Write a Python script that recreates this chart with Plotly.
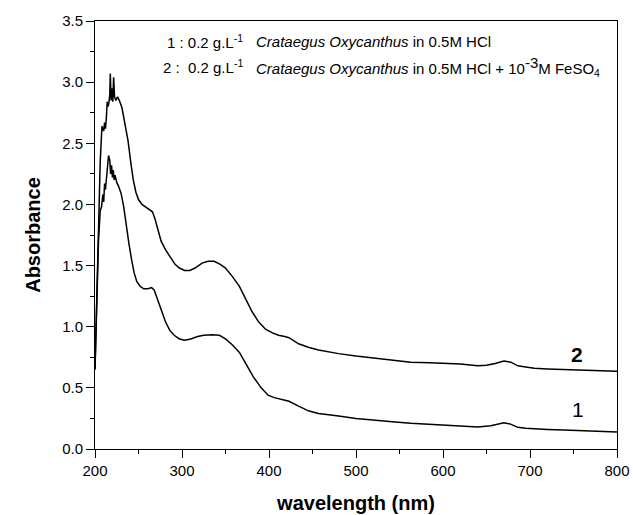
import plotly.graph_objects as go

# Curve 2: 0.2 g/L Crataegus Oxycanthus in 0.5M HCl + 1e-3 M FeSO4
wl2 = [200, 202, 204, 206, 208, 210, 211, 212, 213, 214, 215, 216, 217, 217.6, 218.5,
       219.5, 220.5, 221.4, 222.5, 224, 226, 228, 231, 233, 236, 238, 241, 244, 247, 250,
       254, 258, 262, 266, 269, 272, 276, 281, 286, 292, 297, 303, 309, 315, 323, 330,
       337, 344, 350, 358, 366, 373, 380, 388, 396, 404, 411, 418, 423, 434, 446, 457,
       470, 480, 500, 526, 545, 563, 585, 602, 620, 640, 650, 660, 670, 678, 686, 695,
       705, 720, 739, 760, 780, 800]
abs2 = [0.65, 1.3, 1.95, 2.35, 2.64, 2.60, 2.67, 2.62, 2.70, 2.84, 2.80, 2.83, 2.90, 3.07, 2.85,
        2.95, 2.84, 3.04, 2.88, 2.85, 2.88, 2.85, 2.79, 2.72, 2.60, 2.52, 2.35, 2.20, 2.10, 2.04,
        2.00, 1.98, 1.96, 1.94, 1.88, 1.80, 1.70, 1.63, 1.57, 1.51, 1.48, 1.46, 1.46, 1.48, 1.52, 1.535,
        1.535, 1.51, 1.48, 1.41, 1.33, 1.23, 1.13, 1.04, 0.98, 0.95, 0.93, 0.92, 0.91, 0.86, 0.83, 0.81,
        0.79, 0.78, 0.76, 0.74, 0.725, 0.71, 0.705, 0.70, 0.695, 0.68, 0.685, 0.70, 0.72, 0.71, 0.68, 0.67,
        0.66, 0.655, 0.65, 0.645, 0.64, 0.635]

# Curve 1: 0.2 g/L Crataegus Oxycanthus in 0.5M HCl
wl1 = [200, 202, 204, 206, 207.5, 209, 210, 211, 212, 213, 214, 215.6, 217, 218, 219, 220,
       221, 222, 223, 225, 227, 230, 233, 236, 239, 242, 245, 248, 252, 256, 261, 265, 268,
       271, 276, 281, 286, 291, 297, 303, 310, 318, 325, 335, 343, 350, 358, 366, 374, 382,
       391, 399, 406, 411, 418, 423, 434, 446, 457, 470, 480, 500, 526, 545, 563, 585, 602,
       620, 640, 655, 663, 670, 677, 686, 695, 705, 720, 739, 760, 780, 800]
abs1 = [0.65, 1.2, 1.7, 1.95, 1.98, 2.08, 2.02, 2.17, 2.12, 2.20, 2.30, 2.40, 2.36, 2.25, 2.32, 2.22,
        2.28, 2.20, 2.24, 2.18, 2.15, 2.09, 1.98, 1.82, 1.68, 1.55, 1.44, 1.37, 1.33, 1.31, 1.31, 1.32, 1.30,
        1.24, 1.14, 1.04, 0.97, 0.93, 0.90, 0.89, 0.90, 0.92, 0.93, 0.935, 0.93, 0.90, 0.85, 0.79, 0.69, 0.59,
        0.50, 0.44, 0.42, 0.41, 0.40, 0.39, 0.35, 0.31, 0.29, 0.28, 0.27, 0.25, 0.23, 0.22, 0.21, 0.20, 0.196,
        0.19, 0.18, 0.19, 0.20, 0.215, 0.205, 0.177, 0.17, 0.164, 0.16, 0.155, 0.15, 0.145, 0.14]

x_ticks = [200, 300, 400, 500, 600, 700, 800]
y_ticks = [0.0, 0.5, 1.0, 1.5, 2.0, 2.5, 3.0, 3.5]
legend_prefix = ["1 : 0.2 g.L<sup>-1</sup>", "2 :  0.2 g.L<sup>-1</sup>"]
legend_body = [
    "<i>Crataegus Oxycanthus</i> in 0.5M HCl",
    "<i>Crataegus Oxycanthus</i> in 0.5M HCl + 10<sup><span style='font-size:15px'>-3</span></sup>M FeSO<sub>4</sub>",
]
curve_labels = ["<b>2</b>", "1"]

FONT = "Arial, 'Liberation Sans', sans-serif"
LF = dict(family=FONT, size=15, color="black")

fig = go.Figure()
fig.add_trace(go.Scatter(x=wl1, y=abs1, mode="lines", line=dict(color="black", width=1.5), showlegend=False))
fig.add_trace(go.Scatter(x=wl2, y=abs2, mode="lines", line=dict(color="black", width=1.5), showlegend=False))

# legend lines (prefix right-aligned, body left-aligned)
fig.add_annotation(x=372, y=3.33, text=legend_prefix[0], showarrow=False, xanchor="right", yanchor="middle", font=LF)
fig.add_annotation(x=383, y=3.33, text=legend_body[0], showarrow=False, xanchor="left", yanchor="middle", font=LF)
fig.add_annotation(x=372, y=3.125, text=legend_prefix[1], showarrow=False, xanchor="right", yanchor="middle", font=LF)
fig.add_annotation(x=383, y=3.13, text=legend_body[1], showarrow=False, xanchor="left", yanchor="middle", font=LF)

fig.add_annotation(x=754, y=0.77, text=curve_labels[0], showarrow=False, font=dict(family=FONT, size=21, color="black"))
fig.add_annotation(x=755, y=0.32, text=curve_labels[1], showarrow=False, font=dict(family=FONT, size=21, color="black"))

fig.update_layout(
    width=633, height=515,
    margin=dict(l=95, r=16, t=21, b=66),
    plot_bgcolor="white", paper_bgcolor="white",
    font=dict(family=FONT, color="black"),
)
fig.update_xaxes(
    range=[200, 800], tickvals=x_ticks, ticktext=[str(v) for v in x_ticks], automargin=False,
    showgrid=False, zeroline=False, showline=True, linecolor="black", linewidth=1, mirror=True,
    ticks="outside", ticklen=8, tickcolor="black", tickwidth=1,
    minor=dict(dtick=50, ticks="outside", ticklen=4, tickcolor="black", showgrid=False),
    tickfont=dict(family=FONT, size=15),
    title=dict(text="<b>wavelength (nm)</b>", font=dict(family=FONT, size=20), standoff=17),
)
fig.update_yaxes(
    range=[0, 3.5], tickvals=y_ticks, ticktext=[f"{v:.1f}" for v in y_ticks], automargin=False,
    showgrid=False, zeroline=False, showline=True, linecolor="black", linewidth=1, mirror=True,
    ticks="outside", ticklen=8, tickcolor="black", tickwidth=1,
    minor=dict(dtick=0.25, ticks="outside", ticklen=4, tickcolor="black", showgrid=False),
    tickfont=dict(family=FONT, size=15),
    title=dict(text="<b>Absorbance</b>", font=dict(family=FONT, size=20), standoff=16),
)

fig.write_html("out.html")
